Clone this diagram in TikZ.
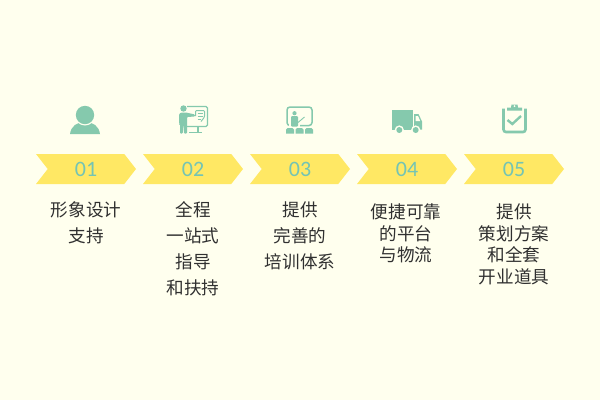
\documentclass[tikz,border=0pt]{standalone}
\usepackage{fontspec}
\usepackage{color}
\usetikzlibrary{shapes.symbols}
\newfontfamily\cjk{Noto Sans CJK SC}
\newfontfamily\digits{Carlito}
\definecolor{paper}{HTML}{FFFFEE}
\definecolor{mint}{HTML}{85C9AD}
\definecolor{numteal}{HTML}{74C4B4}
\definecolor{banner}{HTML}{FFE864}
\definecolor{ink}{HTML}{303030}
\tikzset{
	chev/.style={shape=signal, signal from=west, signal to=east, signal pointer angle=104, fill=banner, minimum width=100pt, minimum height=30pt, inner sep=0pt, outer sep=0pt, text=numteal, font=\digits\fontsize{22}{22}\selectfont},
	lbl/.style={anchor=north, align=center, text=ink, inner sep=0pt, font=\cjk\fontsize{17.6}{26}\selectfont},
	lbltight/.style={lbl, font=\cjk\fontsize{17.6}{21.6}\selectfont},
	icon/.style={fill=mint, draw=none},
	iconline/.style={draw=mint, fill=none, line width=1.4pt},
	gap/.style={fill=paper, draw=none}
}
\begin{document}
\begin{tikzpicture}[x=1pt, y=-1pt]
				\fill[paper] (0,0) rectangle (600,400);
				\node[chev] (N1)at(86, 169) {01};
				\node[chev] (N2)at(193, 169) {02};
				\node[chev] (N3)at(300, 169) {03};
				\node[chev] (N4)at(407, 169) {04};
				\node[chev] (N5)at(514, 169) {05};
				\node[lbl] (T1)at(86, 201.5) {形象设计\\支持};
				\node[lbl] (T2)at(193, 201.5) {全程\\一站式\\指导\\和扶持};
				\node[lbl] (T3)at(300, 201.5) {提供\\完善的\\培训体系};
				\node[lbltight] (T4)at(406, 203.5) {便捷可靠\\的平台\\与物流};
				\node[lbltight] (T5)at(514, 203.5) {提供\\策划方案\\和全套\\开业道具};
				\fill[icon] (70, 134) .. controls (71, 126) and (77, 122) .. (85, 122) .. controls (93, 122) and (99, 126) .. (100, 134) -- cycle;
				\fill[gap] (85, 115) circle (10.5);
				\fill[icon] (85, 115) circle (9.2);
				\draw[iconline, rounded corners=1.5pt] (187, 106.5) -- (207.5, 106.5) -- (207.5, 126.5) -- (187, 126.5);
				\draw[iconline] (198, 127) -- (198, 132);
				\draw[iconline] (189, 132.7) -- (202, 132.7);
				\draw[mint, line width=1pt, rounded corners=1pt] (195.5, 116) -- (195.5, 110.5) -- (204.5, 110.5) -- (204.5, 117) -- (201, 121.5);
				\draw[mint, line width=0.8pt] (197.5, 113) -- (202.5, 113);
				\draw[mint, line width=0.8pt] (197.5, 116) -- (202.5, 116);
				\draw[mint, line width=0.8pt] (197.5, 119) -- (200.5, 119);
				\fill[icon] (183.5, 108.5) circle (3.2);
				\fill[icon, rounded corners=1pt] (179, 114) -- (181, 112.5) -- (186, 112.5) -- (195, 114.5) -- (195, 116.5) -- (187, 117) -- (187, 133.5) -- (184, 133.5) -- (183.5, 122) -- (182.8, 133.5) -- (180, 133.5) -- (180, 124) -- (179, 124) -- cycle;
				\draw[iconline, line width=1.5pt, rounded corners=3pt] (287, 107) rectangle (312, 125.5);
				\fill[gap] (289, 114) rectangle (300, 127);
				\fill[icon] (294.5, 113.2) circle (2.1);
				\fill[icon, rounded corners=1pt] (291, 116) -- (298, 116) -- (298, 126.5) -- (291, 126.5) -- cycle;
				\draw[mint, line width=0.9pt] (298, 122.5) -- (304.5, 117);
				\fill[icon] (286, 133.5) -- (286, 129.5) -- (287.5, 128) -- (292.5, 128) -- (294, 129.5) -- (294, 133.5) -- cycle;
				\fill[icon] (295.5, 133.5) -- (295.5, 129.5) -- (297, 128) -- (302, 128) -- (303.5, 129.5) -- (303.5, 133.5) -- cycle;
				\fill[icon] (305, 133.5) -- (305, 129.5) -- (306.5, 128) -- (311.5, 128) -- (313, 129.5) -- (313, 133.5) -- cycle;
				\fill[icon] (392, 110) rectangle (413, 129.5);
				\fill[icon] (414, 114) -- (418.5, 114) -- (422, 121.5) -- (422, 129.5) -- (414, 129.5) -- cycle;
				\fill[gap] (415.5, 116) -- (418, 116) -- (420.2, 121) -- (415.5, 121) -- cycle;
				\fill[gap] (399.3, 130) circle (4.6);
				\fill[gap] (415.7, 130) circle (4.6);
				\fill[icon] (399.3, 130) circle (3);
				\fill[icon] (415.7, 130) circle (3);
				\draw[iconline, line width=2.6pt, rounded corners=2.5pt] (503.5, 108.5) -- (503.5, 132) -- (525.5, 132) -- (525.5, 108.5);
				\fill[icon] (507, 110.5) -- (507, 107.5) -- (511, 107.5) -- (511.5, 104.5) -- (517.5, 104.5) -- (518, 107.5) -- (522, 107.5) -- (522, 110.5) -- cycle;
				\fill[gap] (514.5, 106.2) circle (1);
				\draw[iconline, line width=2.4pt] (507.5, 120) -- (512.3, 124) -- (521, 116);
			\end{tikzpicture}
\end{document}
